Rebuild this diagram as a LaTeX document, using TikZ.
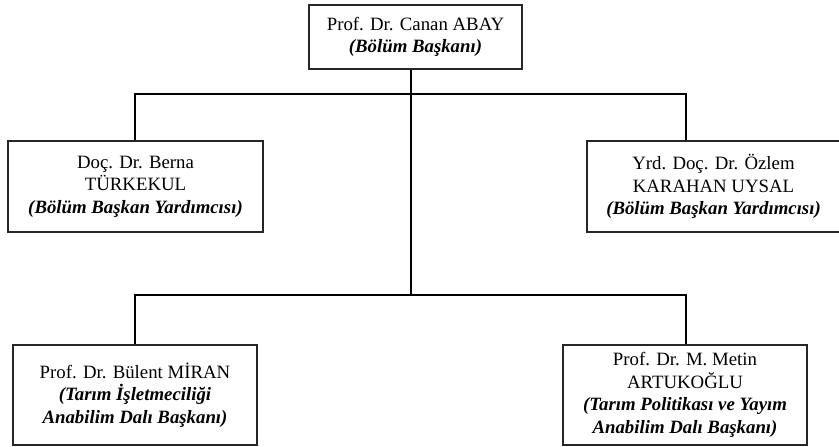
\documentclass[tikz,border=0pt]{standalone}
\usepackage{fontspec}
\setmainfont{Liberation Serif}
\tikzset{
  orgbox/.style={draw=black!85, line width=1.6pt, rectangle, align=center,
    inner sep=0pt, font=\fontsize{18.8}{22.5}\selectfont},
  link/.style={draw=black, line width=2.2pt, line join=miter},
}
\newcommand{\rolefont}[1]{\textbf{\textit{#1}}}
\begin{document}
\begin{tikzpicture}[x=1pt,y=-1pt]
\useasboundingbox (0,0) rectangle (839,447);
\clip (0,0) rectangle (839,447);
% boxes
\node[orgbox, minimum width=213, minimum height=64] (top) at (415.5,37)
  {Prof. Dr. Canan ABAY\\ \rolefont{(Bölüm Başkanı)}};
\node[orgbox, minimum width=255, minimum height=91] (ml) at (135.5,186.5)
  {Doç. Dr. Berna\\ TÜRKEKUL\\ \rolefont{(Bölüm Başkan Yardımcısı)}};
\node[orgbox, minimum width=253, minimum height=91] (mr) at (713.5,186.5)
  {Yrd. Doç. Dr. Özlem\\ KARAHAN UYSAL\\ \rolefont{(Bölüm Başkan Yardımcısı)}};
\node[orgbox, minimum width=244, minimum height=100] (bl) at (135,395)
  {Prof. Dr. Bülent MİRAN\\ \rolefont{(Tarım İşletmeciliği}\\ \rolefont{Anabilim Dalı Başkanı)}};
\node[orgbox, minimum width=244, minimum height=100] (br) at (685,395)
  {Prof. Dr. M. Metin\\ ARTUKOĞLU\\ \rolefont{(Tarım Politikası ve Yayım}\\ \rolefont{Anabilim Dalı Başkanı)}};
% junctions
\coordinate (spine) at (411,0);
\coordinate (j1r) at (686,94);
\coordinate (j2) at (411,295);
\coordinate (j2r) at (686,295);
% connectors
\draw[link] (top.south -| spine) -- (j2);
\draw[link] (ml.north -| 135,0) |- (j1r) -- (mr.north -| j1r);
\draw[link] (bl.north) |- (j2r) -- (br.north -| j2r);
\end{tikzpicture}
\end{document}
